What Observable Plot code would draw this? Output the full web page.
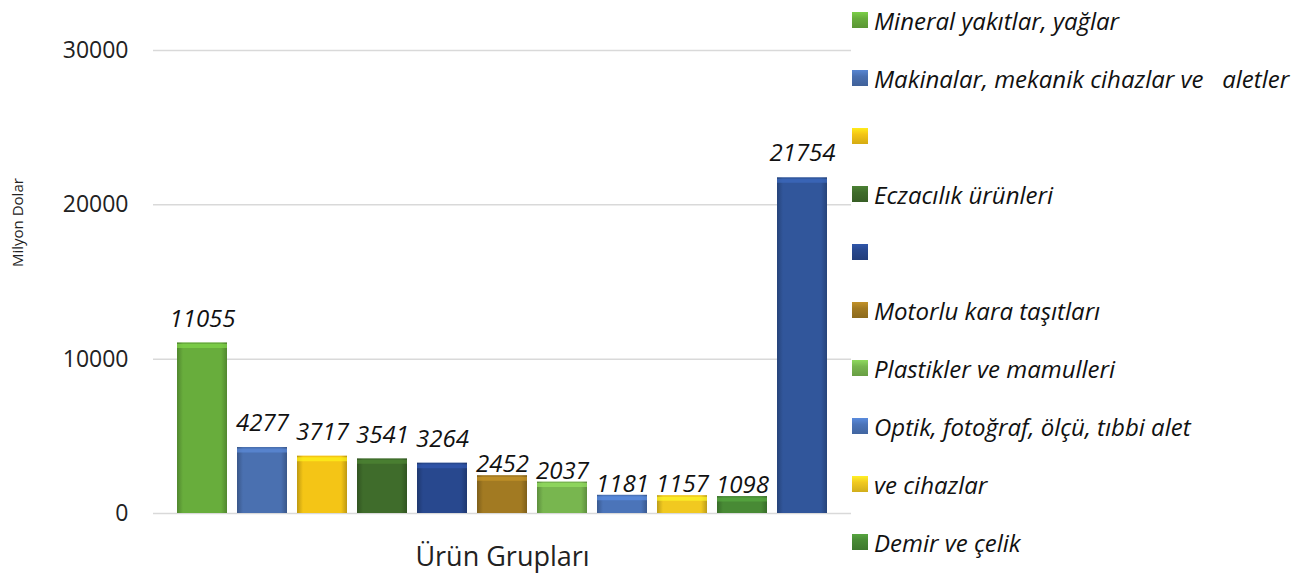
<!DOCTYPE html>
<html>
<head>
<meta charset="utf-8">
<script src="https://cdn.jsdelivr.net/npm/d3@7"></script>
<script src="https://cdn.jsdelivr.net/npm/@observablehq/plot@0.6"></script>
<style>
  html, body { margin: 0; padding: 0; background: #fff; }
  #wrap { position: relative; width: 1316px; height: 576px; font-family: "Open Sans", sans-serif; }
  #legend { position: absolute; left: 852px; top: 0; width: 464px; height: 576px; }
  .item { position: absolute; left: 0; display: flex; align-items: center; height: 30px; white-space: pre; }
  .sw { width: 16px; height: 16px; margin-right: 6px; flex: none; }
  .lbl { font-style: italic; font-size: 24px; color: #111; }
</style>
</head>
<body>
<div id="wrap"><div id="chart"></div><div id="legend"></div></div>
<script>
const values = [11055, 4277, 3717, 3541, 3264, 2452, 2037, 1181, 1157, 1098, 21754];
const legendLabels = [
  "Mineral yakıtlar, yağlar",
  "Makinalar, mekanik cihazlar ve   aletler",
  "",
  "Eczacılık ürünleri",
  "",
  "Motorlu kara taşıtları",
  "Plastikler ve mamulleri",
  "Optik, fotoğraf, ölçü, tıbbi alet",
  "ve cihazlar",
  "Demir ve çelik"
];
const colors = ["#68ad3c", "#4a70b0", "#f4c516", "#3f6c2b", "#28488e", "#a27a22", "#78b64f", "#4b74b9", "#f1c920", "#488a35", "#31569b"];
const yTicks = [0, 10000, 20000, 30000];

const data = values.map((v, i) => ({i, v, grad: `url(#g${i})`, hi: d3.color(colors[i]).brighter(0.6).formatHex()}));

const chart = Plot.plot({
  width: 1316,
  height: 576,
  marginLeft: 153,
  marginRight: 465,
  marginTop: 50,
  marginBottom: 63,
  style: {fontFamily: "'Open Sans', sans-serif", background: "#fff"},
  x: {type: "band", domain: d3.range(values.length), range: [176, 827], paddingInner: 0.168, paddingOuter: 0, axis: null},
  y: {domain: [0, 30000], axis: null},
  color: {type: "identity"},
  marks: [
    Plot.ruleY(yTicks, {stroke: "#d9d9d9", strokeWidth: 1.5}),
    Plot.axisY({ticks: yTicks, tickFormat: d3.format("d"), tickSize: 0, tickPadding: 25, fontSize: 23, label: null, fill: "#222"}),
    Plot.barY(data, {x: "i", y: "v", fill: "grad"}),
    Plot.tickY(data, {x: "i", y: "v", stroke: "hi", strokeWidth: 4, dy: 3, strokeOpacity: 0.7}),
    Plot.text(data, {filter: d => d.i < 5 || d.i === 10, x: "i", y: "v", text: d => String(d.v), dy: -24, fontSize: 24, fontStyle: "italic", fill: "#111"}),
    Plot.text(data, {filter: d => d.i >= 5 && d.i < 10, x: "i", y: "v", text: d => String(d.v), dy: -11, fontSize: 24, fontStyle: "italic", fill: "#111"}),
    Plot.text(["Ürün Grupları"], {frameAnchor: "bottom", dy: 52, fontSize: 27, fill: "#222"}),
    Plot.text(["Milyon Dolar"], {frameAnchor: "left", dx: -135, dy: -15, rotate: -90, fontSize: 15, fill: "#222"})
  ]
});

// gradient defs for a bevelled look
const svg = d3.select(chart);
const defs = svg.insert("defs", ":first-child");
colors.forEach((c, i) => {
  const base = d3.color(c);
  const g = defs.append("linearGradient").attr("id", `g${i}`).attr("x1", 0).attr("x2", 1).attr("y1", 0).attr("y2", 0);
  g.append("stop").attr("offset", "0%").attr("stop-color", base.darker(0.7).formatHex());
  g.append("stop").attr("offset", "12%").attr("stop-color", base.formatHex());
  g.append("stop").attr("offset", "88%").attr("stop-color", base.formatHex());
  g.append("stop").attr("offset", "100%").attr("stop-color", base.darker(0.7).formatHex());
});
document.getElementById("chart").appendChild(chart);

// legend
const legend = d3.select("#legend");
legendLabels.forEach((lab, i) => {
  const item = legend.append("div").attr("class", "item").style("top", `${20 + i * 58 - 15}px`);
  const c = d3.color(colors[i]);
  item.append("div").attr("class", "sw")
    .style("background", `linear-gradient(to bottom, ${c.brighter(0.5).formatHex()}, ${c.formatHex()} 40%, ${c.darker(0.4).formatHex()})`);
  item.append("span").attr("class", "lbl").text(lab);
});
</script>
</body>
</html>
